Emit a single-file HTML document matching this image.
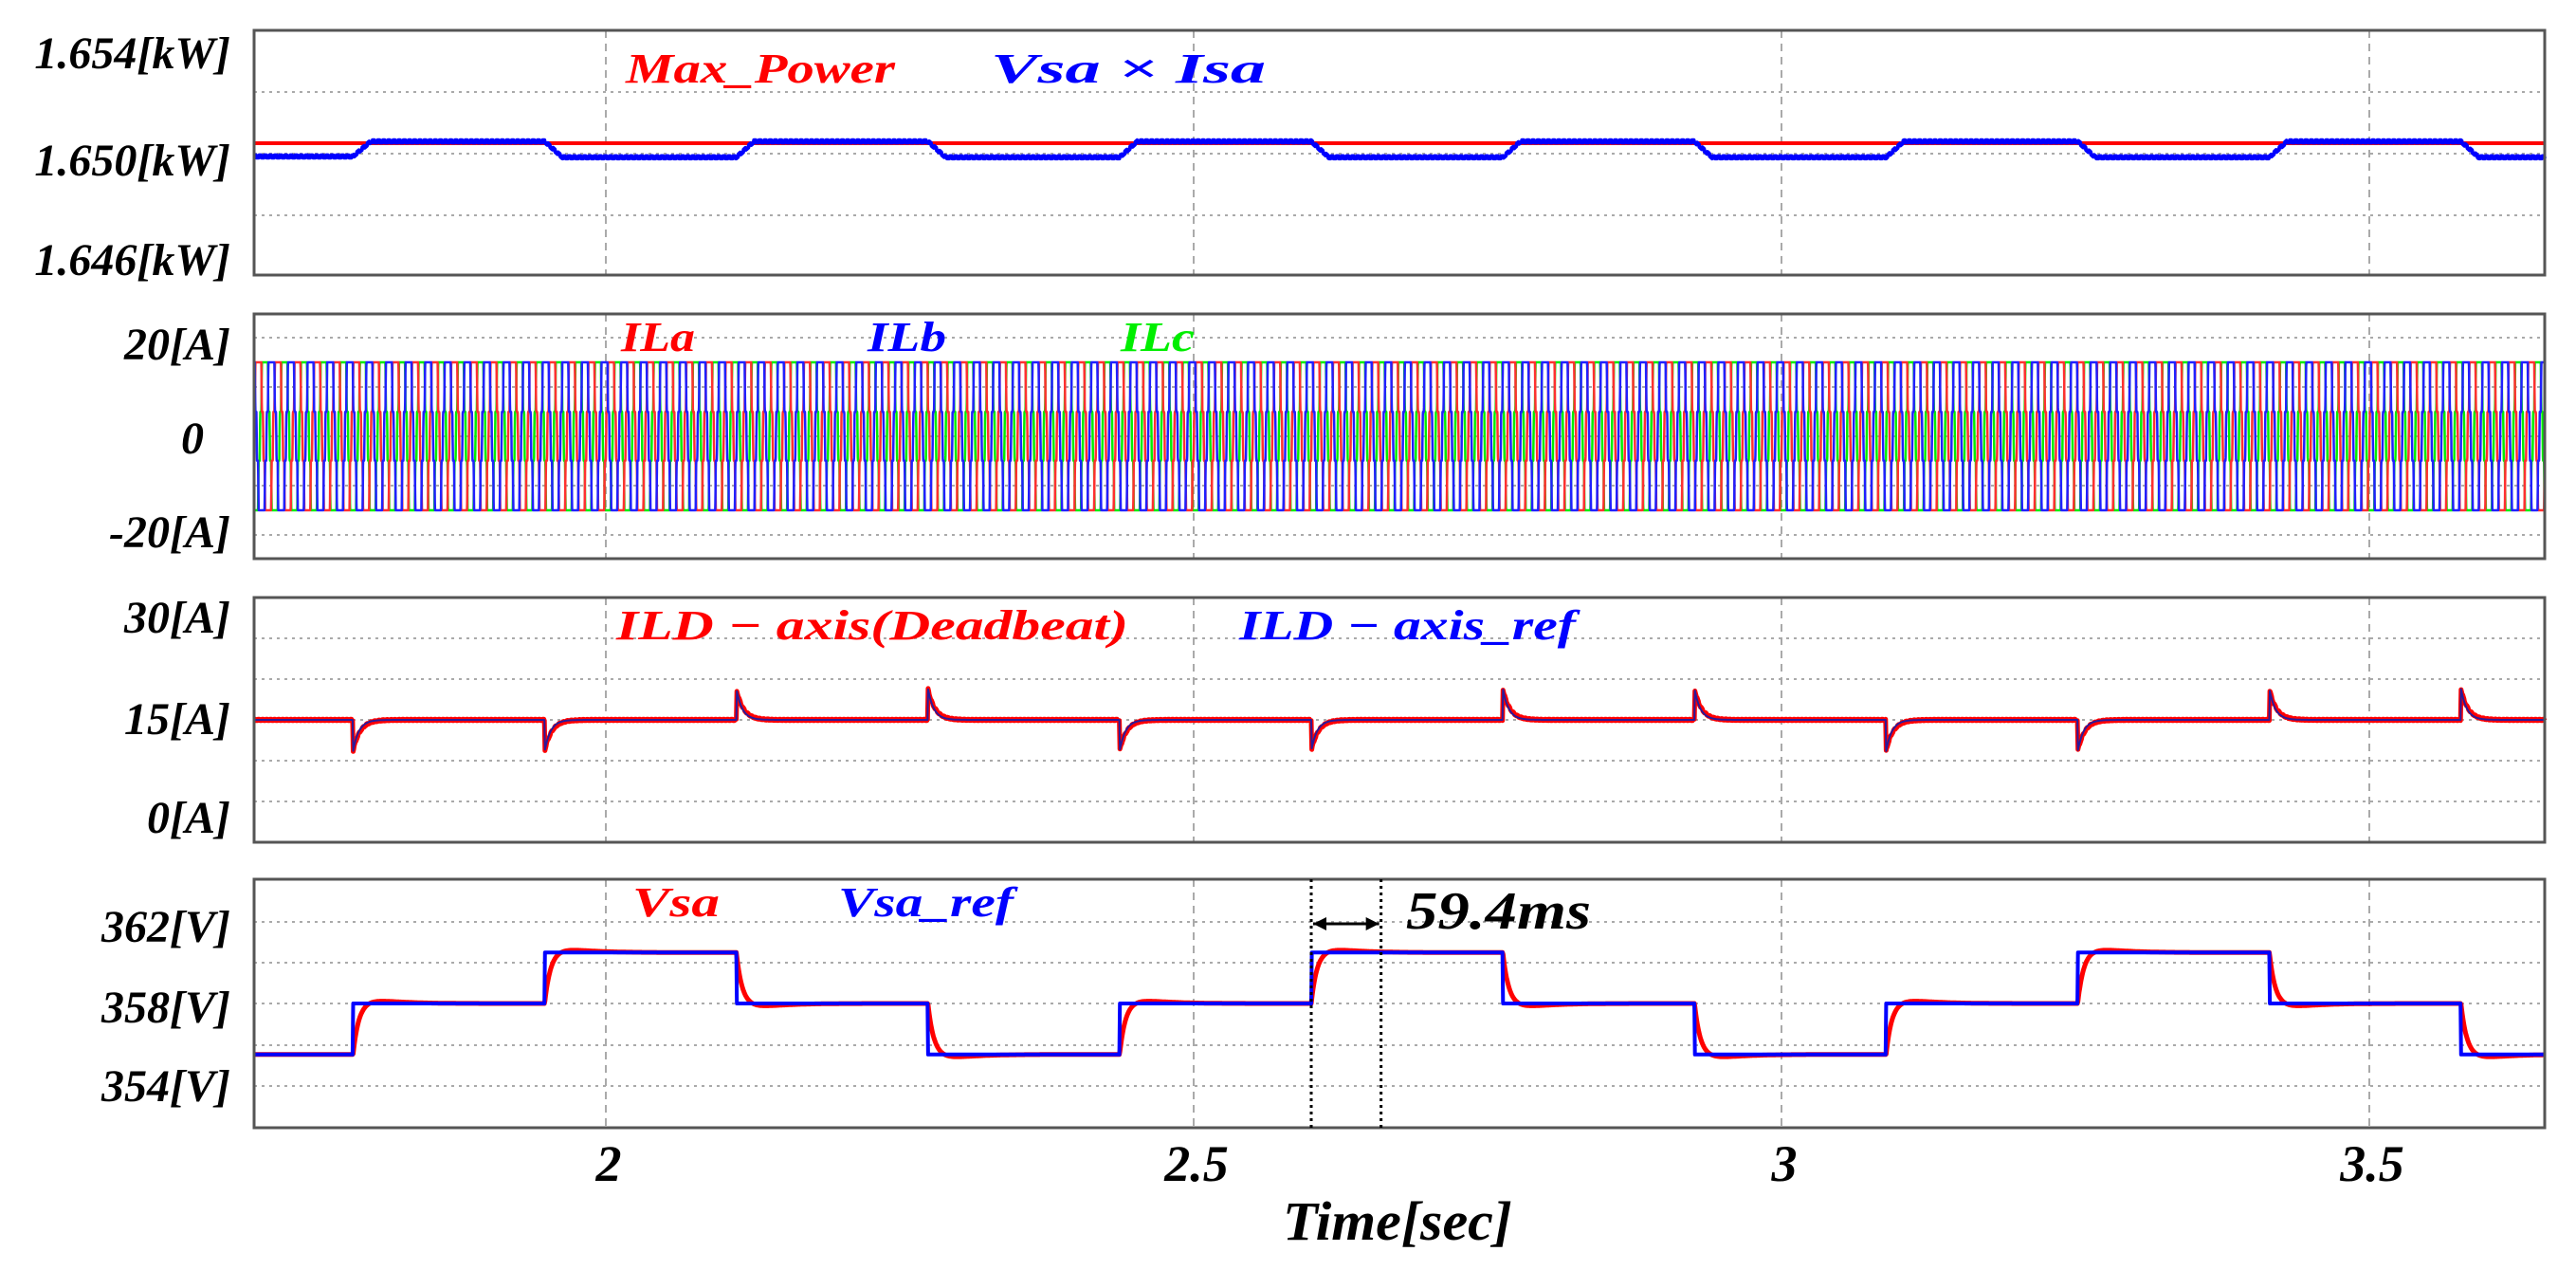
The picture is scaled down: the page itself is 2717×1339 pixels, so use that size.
<!DOCTYPE html>
<html><head><meta charset="utf-8"><style>
html,body{margin:0;padding:0;background:#fff;}
svg{display:block;}
text{font-family:"Liberation Serif",serif;font-weight:bold;font-style:italic;}
</style></head><body>
<svg id="chart" width="2717" height="1339" viewBox="0 0 2717 1339" xmlns="http://www.w3.org/2000/svg">
<g id="grid"></g>
<g id="series"></g>
<g id="frames"></g>
<g id="labels">
  <text x="243" y="72" font-size="48" text-anchor="end">1.654[kW]</text>
  <text x="243" y="185" font-size="48" text-anchor="end">1.650[kW]</text>
  <text x="243" y="290" font-size="48" text-anchor="end">1.646[kW]</text>
  <text x="243" y="379" font-size="48" text-anchor="end">20[A]</text>
  <text x="215" y="478" font-size="48" text-anchor="end">0</text>
  <text x="243" y="577" font-size="48" text-anchor="end">-20[A]</text>
  <text x="243" y="667" font-size="48" text-anchor="end">30[A]</text>
  <text x="243" y="774" font-size="48" text-anchor="end">15[A]</text>
  <text x="243" y="878" font-size="48" text-anchor="end">0[A]</text>
  <text x="243" y="993" font-size="48" text-anchor="end">362[V]</text>
  <text x="243" y="1078" font-size="48" text-anchor="end">358[V]</text>
  <text x="243" y="1161" font-size="48" text-anchor="end">354[V]</text>
  <text x="1353" y="1307" font-size="58" textLength="242" lengthAdjust="spacingAndGlyphs">Time[sec]</text>
  <text x="660" y="87" font-size="44" fill="#ff0000" textLength="284" lengthAdjust="spacingAndGlyphs">Max_Power</text>
  <text x="1045" y="87" font-size="44" fill="#0000ff" textLength="290" lengthAdjust="spacingAndGlyphs">Vsa × Isa</text>
  <text x="655" y="370" font-size="44" fill="#ff0000" textLength="78" lengthAdjust="spacingAndGlyphs">ILa</text>
  <text x="915" y="370" font-size="44" fill="#0000ff" textLength="83" lengthAdjust="spacingAndGlyphs">ILb</text>
  <text x="1182" y="370" font-size="44" fill="#00ee00" textLength="78" lengthAdjust="spacingAndGlyphs">ILc</text>
  <text x="650" y="674" font-size="44" fill="#ff0000" textLength="540" lengthAdjust="spacingAndGlyphs">ILD − axis(Deadbeat)</text>
  <text x="1307" y="674" font-size="44" fill="#0000ff" textLength="355" lengthAdjust="spacingAndGlyphs">ILD − axis_ref</text>
  <text x="667" y="966" font-size="44" fill="#ff0000" textLength="92" lengthAdjust="spacingAndGlyphs">Vsa</text>
  <text x="884" y="966" font-size="44" fill="#0000ff" textLength="185" lengthAdjust="spacingAndGlyphs">Vsa_ref</text>
  <text x="1483" y="979" font-size="56" fill="#000" textLength="195" lengthAdjust="spacingAndGlyphs">59.4ms</text>
</g>
<g id="annot"></g>
</svg>
<script>
// ---- data ----
const xTicks = [2, 2.5, 3, 3.5];
const xTickLabels = ["2", "2.5", "3", "3.5"];
const stepTimes = [1.785, 1.948, 2.111, 2.274, 2.437, 2.600, 2.763, 2.926, 3.089, 3.252, 3.415, 3.578];
const vsaLevels = [355.5, 358, 360.5, 358, 355.5, 358, 360.5, 358, 355.5, 358, 360.5, 358, 355.5];
const powerLevels = [1649.88, 1650.37, 1649.85, 1650.37, 1649.85, 1650.37, 1649.85, 1650.37, 1649.85, 1650.37, 1649.85, 1650.37, 1649.85];
const maxPower = 1650.31;
const ildBase = [15, 15, 15, 15, 15, 15, 15, 15, 15, 15, 15, 15, 15];
const ildSpikes = [-4.7, -4.7, 4.7, 4.7, -4.7, -4.7, 4.7, 4.7, -4.7, -4.7, 4.7, 4.7];
const lineFreq = 60;
const loadAmp = 15;
const currentSteps = [0.33, 1, 1, 1, 1, 0.33, -0.33, -1, -1, -1, -1, -0.33];
const markerTimes = [2.600, 2.6594];

// ---- axes ----
const L = 268, R = 2684;
const tMin = 2 - (639 - L) / 1240, tMax = 2 + (R - 639) / 1240;
const X = t => 639 + (t - 2) * 1240;
const panels = [
  {top: 32, bot: 290, grid: [97, 162, 227]},
  {top: 331, bot: 589, grid: [356, 408, 460, 512, 564]},
  {top: 630, bot: 888, grid: [673, 716, 759, 802, 845]},
  {top: 927, bot: 1189, grid: [972, 1015, 1058, 1102, 1145]}
];
const Yp = p => 161 - (p - 1650) * 32.25;
const Yi = i => 460 - i * 5.2;
const Yd = i => 759 - (i - 15) * 7.03;
const Yv = v => 1058 - (v - 358) * 21.5;

const NS = "http://www.w3.org/2000/svg";
function mk(tag, parent, attrs) {
  const e = document.createElementNS(NS, tag);
  for (const k in attrs) e.setAttribute(k, attrs[k]);
  parent.appendChild(e);
  return e;
}
const grid = document.getElementById('grid');
const series = document.getElementById('series');
const frames = document.getElementById('frames');
const labels = document.getElementById('labels');
const annot = document.getElementById('annot');

panels.forEach((p, pi) => {
  p.grid.forEach(y => {
    const g = mk('line', grid, {x1: L, x2: R, y1: y, y2: y, stroke: '#aaa', 'stroke-width': 2, 'stroke-dasharray': '3 5'});
    
    
  });
  xTicks.forEach(t => {
    const g = mk('line', grid, {x1: X(t), x2: X(t), y1: p.top, y2: p.bot, stroke: '#aaa', 'stroke-width': 2, 'stroke-dasharray': '8 6'});
    
    
  });
  const f = mk('rect', frames, {x: L, y: p.top, width: R - L, height: p.bot - p.top, fill: 'none', stroke: '#555', 'stroke-width': 3});
  
  
});

xTicks.forEach((t, i) => {
  const tx = mk('text', labels, {x: X(t) + 3, y: 1245, 'font-size': 54, 'text-anchor': 'middle'});
  tx.textContent = xTickLabels[i];
  
  
});

function interval(t) { let k = 0; while (k < stepTimes.length && t >= stepTimes[k]) k++; return k; }
function addPath(d, color, w, name) {
  const p = mk('path', series, {d: d, fill: 'none', stroke: color, 'stroke-width': w, 'stroke-linejoin': 'round'});
  
  
  return p;
}
const N = 4000;
const dt = (tMax - tMin) / N;

// Panel 1: power
(function () {
  let d = '';
  for (let i = 0; i <= N; i++) {
    const t = tMin + i * dt;
    const k = interval(t);
    let v = powerLevels[k];
    if (k > 0) {
      const s = t - stepTimes[k - 1];
      if (s < 0.015) v = powerLevels[k - 1] + (powerLevels[k] - powerLevels[k - 1]) * (s / 0.015);
    }
    const rip = ((i % 9) < 4 ? 0.04 : -0.04);
    d += (i ? 'L' : 'M') + X(t).toFixed(1) + ' ' + Yp(v + rip).toFixed(1);
  }
  addPath('M' + L + ' ' + Yp(maxPower) + 'L' + R + ' ' + Yp(maxPower), '#ff0000', 4, 'max-power-line');
  addPath(d, '#0000ff', 4, 'vsa-isa-line');
})();

// Panel 2: load currents (trapezoidal six-step waveforms)
(function () {
  const cols = ['#00ee00', '#ff3030', '#2020ff'];
  const names = ['ilc-line', 'ila-line', 'ilb-line'];
  const shifts = [2 / 3, 0, 1 / 3];
  const M = 14000, ddt = (tMax - tMin) / M;
  [0, 1, 2].forEach(ph => {
    let d = '';
    for (let i = 0; i <= M; i++) {
      const t = tMin + i * ddt;
      const c = ((t * lineFreq + shifts[ph]) % 1 + 1) % 1;
      const pos = c * 12;
      const k = Math.floor(pos) % 12;
      const fr = pos - Math.floor(pos);
      let lvl = currentSteps[k];
      if (fr < 0.35) {
        const prev = currentSteps[(k + 11) % 12];
        lvl = prev + (lvl - prev) * (fr / 0.35);
      }
      const v = loadAmp * lvl;
      d += (i ? 'L' : 'M') + X(t).toFixed(1) + ' ' + Yi(v).toFixed(1);
    }
    addPath(d, cols[ph], 2.5, names[ph]);
  });
})();

// Panel 3: ILD
(function () {
  function val(t, ref) {
    const k = interval(t);
    let v = ildBase[k];
    if (k > 0) {
      const s = t - stepTimes[k - 1];
      if (s >= 0 && s < 0.05) v += ildSpikes[k - 1] * Math.exp(-s / (ref ? 0.005 : 0.006));
    }
    return v;
  }
  let dr = '', db = '';
  for (let i = 0; i <= N; i++) {
    const t = tMin + i * dt;
    dr += (i ? 'L' : 'M') + X(t).toFixed(1) + ' ' + Yd(val(t, false) + ((i % 7) < 3 ? 0.1 : -0.1)).toFixed(1);
    db += (i ? 'L' : 'M') + X(t).toFixed(1) + ' ' + Yd(val(t, true)).toFixed(1);
  }
  addPath(dr, '#ff0000', 5, 'ild-deadbeat-line');
  addPath(db, '#2a1a9a', 2, 'ild-ref-line');
})();

// Panel 4: Vsa
(function () {
  let dr = '', db = '';
  for (let i = 0; i <= N; i++) {
    const t = tMin + i * dt;
    const k = interval(t);
    const ref = vsaLevels[k];
    let v = ref;
    if (k > 0) {
      const s = t - stepTimes[k - 1];
      const dlt = vsaLevels[k] - vsaLevels[k - 1];
      v = ref - dlt * Math.exp(-s / 0.005) + dlt * 0.06 * (s / 0.015) * Math.exp(1 - s / 0.015);
    }
    dr += (i ? 'L' : 'M') + X(t).toFixed(1) + ' ' + Yv(v).toFixed(1);
    db += (i ? 'L' : 'M') + X(t).toFixed(1) + ' ' + Yv(ref).toFixed(1);
  }
  addPath(dr, '#ff0000', 5, 'vsa-line');
  addPath(db, '#0000ff', 4, 'vsa-ref-line');
})();

// annotation markers
markerTimes.forEach(t => {
  const l = mk('line', annot, {x1: X(t), x2: X(t), y1: 927, y2: 1189, stroke: '#000', 'stroke-width': 3, 'stroke-dasharray': '3 4'});
  
  
});
(function () {
  const x1 = X(markerTimes[0]) + 2, x2 = X(markerTimes[1]) - 2, y = 974;
  const a = mk('path', annot, {d: 'M' + x1 + ' ' + y + 'L' + x2 + ' ' + y, stroke: '#000', 'stroke-width': 3, fill: 'none'});
  
  
  const h = mk('path', annot, {d: 'M' + x1 + ' ' + y + 'l14 -7v14z M' + x2 + ' ' + y + 'l-14 -7v14z', fill: '#000'});
  
  
})();
</script>
</body></html>
